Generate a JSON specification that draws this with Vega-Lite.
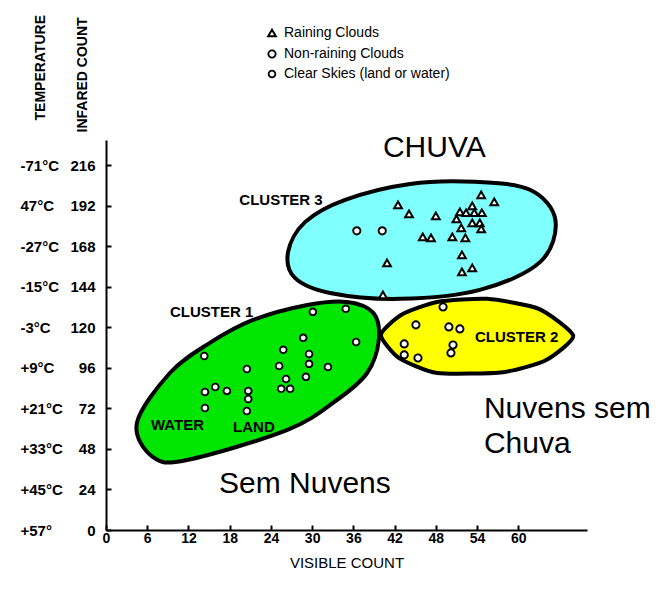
{
  "$schema": "https://vega.github.io/schema/vega-lite/v6.json",
  "autosize": "none",
  "width": 481,
  "height": 390,
  "padding": {"left": 106, "top": 140, "right": 79, "bottom": 62},
  "background": "white",
  "datasets": {
    "c3": [
      {"ord": 1, "vis": 26.5, "ir": 164.7}, {"ord": 2, "vis": 29.0, "ir": 182.5}, {"ord": 3, "vis": 34.8, "ir": 195.6},
      {"ord": 4, "vis": 44.25, "ir": 205.0}, {"ord": 5, "vis": 53.7, "ir": 206.2}, {"ord": 6, "vis": 61.7, "ir": 201.5},
      {"ord": 7, "vis": 65.4, "ir": 183.7}, {"ord": 8, "vis": 63.2, "ir": 158.8}, {"ord": 9, "vis": 54.4, "ir": 142.2},
      {"ord": 10, "vis": 42.8, "ir": 136.9}, {"ord": 11, "vis": 32.6, "ir": 140.4}, {"ord": 12, "vis": 27.5, "ir": 149.3}
    ],
    "c1": [
      {"ord": 1, "vis": 29.3, "ir": 133.3}, {"ord": 2, "vis": 35.1, "ir": 135.1}, {"ord": 3, "vis": 38.9, "ir": 128.6},
      {"ord": 4, "vis": 39.7, "ir": 112.6}, {"ord": 5, "vis": 38.0, "ir": 93.0}, {"ord": 6, "vis": 33.6, "ir": 77.0},
      {"ord": 7, "vis": 26.4, "ir": 59.3}, {"ord": 8, "vis": 11.8, "ir": 41.5}, {"ord": 9, "vis": 6.8, "ir": 43.3},
      {"ord": 10, "vis": 4.5, "ir": 63.4}, {"ord": 11, "vis": 9.3, "ir": 93.0}, {"ord": 12, "vis": 15.1, "ir": 110.8},
      {"ord": 13, "vis": 21.4, "ir": 124.4}
    ],
    "c2": [
      {"ord": 1, "vis": 40.0, "ir": 115.6}, {"ord": 2, "vis": 43.0, "ir": 127.5}, {"ord": 3, "vis": 48.2, "ir": 135.1},
      {"ord": 4, "vis": 55.5, "ir": 136.9}, {"ord": 5, "vis": 63.0, "ir": 131.0}, {"ord": 6, "vis": 68.0, "ir": 115.0},
      {"ord": 7, "vis": 64.0, "ir": 100.5}, {"ord": 8, "vis": 57.8, "ir": 93.5}, {"ord": 9, "vis": 48.2, "ir": 93.0},
      {"ord": 10, "vis": 42.6, "ir": 102.0}
    ],
    "pts": [
      {"vis": 42.5, "ir": 192.6, "type": "Raining Clouds"},
      {"vis": 44.1, "ir": 187.3, "type": "Raining Clouds"},
      {"vis": 48.0, "ir": 186.1, "type": "Raining Clouds"},
      {"vis": 54.6, "ir": 198.5, "type": "Raining Clouds"},
      {"vis": 56.5, "ir": 194.4, "type": "Raining Clouds"},
      {"vis": 53.3, "ir": 192.0, "type": "Raining Clouds"},
      {"vis": 51.5, "ir": 188.4, "type": "Raining Clouds"},
      {"vis": 52.4, "ir": 187.9, "type": "Raining Clouds"},
      {"vis": 53.6, "ir": 187.9, "type": "Raining Clouds"},
      {"vis": 54.7, "ir": 187.9, "type": "Raining Clouds"},
      {"vis": 51.0, "ir": 184.3, "type": "Raining Clouds"},
      {"vis": 53.3, "ir": 181.9, "type": "Raining Clouds"},
      {"vis": 54.4, "ir": 181.9, "type": "Raining Clouds"},
      {"vis": 51.7, "ir": 179.0, "type": "Raining Clouds"},
      {"vis": 54.6, "ir": 178.4, "type": "Raining Clouds"},
      {"vis": 46.1, "ir": 173.6, "type": "Raining Clouds"},
      {"vis": 47.3, "ir": 173.0, "type": "Raining Clouds"},
      {"vis": 50.4, "ir": 173.6, "type": "Raining Clouds"},
      {"vis": 52.3, "ir": 173.0, "type": "Raining Clouds"},
      {"vis": 51.8, "ir": 163.0, "type": "Raining Clouds"},
      {"vis": 40.9, "ir": 158.2, "type": "Raining Clouds"},
      {"vis": 53.3, "ir": 155.3, "type": "Raining Clouds"},
      {"vis": 51.8, "ir": 152.9, "type": "Raining Clouds"},
      {"vis": 40.3, "ir": 139.3, "type": "Raining Clouds"},
      {"vis": 36.5, "ir": 177.2, "type": "Non-raining Clouds"},
      {"vis": 40.2, "ir": 177.2, "type": "Non-raining Clouds"},
      {"vis": 49.05, "ir": 132.1, "type": "Non-raining Clouds"},
      {"vis": 45.1, "ir": 121.5, "type": "Non-raining Clouds"},
      {"vis": 49.9, "ir": 120.3, "type": "Non-raining Clouds"},
      {"vis": 51.5, "ir": 119.1, "type": "Non-raining Clouds"},
      {"vis": 43.4, "ir": 110.2, "type": "Non-raining Clouds"},
      {"vis": 50.5, "ir": 109.6, "type": "Non-raining Clouds"},
      {"vis": 50.2, "ir": 104.9, "type": "Non-raining Clouds"},
      {"vis": 43.4, "ir": 103.7, "type": "Non-raining Clouds"},
      {"vis": 45.4, "ir": 101.9, "type": "Non-raining Clouds"},
      {"vis": 30.1, "ir": 129.2, "type": "Clear Skies (land or water)"},
      {"vis": 34.9, "ir": 131.0, "type": "Clear Skies (land or water)"},
      {"vis": 28.7, "ir": 113.8, "type": "Clear Skies (land or water)"},
      {"vis": 36.4, "ir": 111.4, "type": "Clear Skies (land or water)"},
      {"vis": 25.8, "ir": 106.7, "type": "Clear Skies (land or water)"},
      {"vis": 29.55, "ir": 104.3, "type": "Clear Skies (land or water)"},
      {"vis": 14.3, "ir": 103.1, "type": "Clear Skies (land or water)"},
      {"vis": 25.2, "ir": 97.2, "type": "Clear Skies (land or water)"},
      {"vis": 29.55, "ir": 98.4, "type": "Clear Skies (land or water)"},
      {"vis": 32.3, "ir": 96.6, "type": "Clear Skies (land or water)"},
      {"vis": 20.5, "ir": 95.4, "type": "Clear Skies (land or water)"},
      {"vis": 26.2, "ir": 89.5, "type": "Clear Skies (land or water)"},
      {"vis": 29.1, "ir": 90.7, "type": "Clear Skies (land or water)"},
      {"vis": 15.9, "ir": 84.7, "type": "Clear Skies (land or water)"},
      {"vis": 14.4, "ir": 81.8, "type": "Clear Skies (land or water)"},
      {"vis": 17.6, "ir": 82.4, "type": "Clear Skies (land or water)"},
      {"vis": 20.7, "ir": 82.4, "type": "Clear Skies (land or water)"},
      {"vis": 25.5, "ir": 83.6, "type": "Clear Skies (land or water)"},
      {"vis": 26.8, "ir": 83.6, "type": "Clear Skies (land or water)"},
      {"vis": 20.7, "ir": 77.6, "type": "Clear Skies (land or water)"},
      {"vis": 14.4, "ir": 72.3, "type": "Clear Skies (land or water)"},
      {"vis": 20.5, "ir": 70.5, "type": "Clear Skies (land or water)"}
    ],
    "small": [
      {"vis": 19.4, "ir": 192.6, "label": "CLUSTER 3"},
      {"vis": 9.3, "ir": 126.2, "label": "CLUSTER 1"},
      {"vis": 53.7, "ir": 111.4, "label": "CLUSTER 2"},
      {"vis": 6.55, "ir": 59.3, "label": "WATER"},
      {"vis": 18.5, "ir": 58.1, "label": "LAND"}
    ],
    "big": [
      {"vis": 40.3, "ir": 221.0, "label": "CHUVA"},
      {"vis": 16.45, "ir": 21.9, "label": "Sem Nuvens"},
      {"vis": 55.0, "ir": 66.4, "label": "Nuvens sem"},
      {"vis": 55.0, "ir": 45.6, "label": "Chuva"}
    ],
    "temps": [
      {"ir": 216, "temp": "-71°C"}, {"ir": 192, "temp": "47°C"}, {"ir": 168, "temp": "-27°C"},
      {"ir": 144, "temp": "-15°C"}, {"ir": 120, "temp": "-3°C"}, {"ir": 96, "temp": "+9°C"},
      {"ir": 72, "temp": "+21°C"}, {"ir": 48, "temp": "+33°C"}, {"ir": 24, "temp": "+45°C"},
      {"ir": 0, "temp": "+57°"}
    ]
  },
  "layer": [
    {
      "encoding": {
        "x": {"field": "vis", "type": "quantitative",
          "scale": {"domain": [0, 70], "nice": false, "zero": false},
          "axis": {"values": [0, 6, 12, 18, 24, 30, 36, 42, 48, 54, 60], "tickSize": -5, "labelPadding": 6,
            "labelFontSize": 14, "labelFontWeight": "bold", "labelFlush": false,
            "title": "VISIBLE COUNT", "titleFontSize": 15, "titleFontWeight": "normal", "titlePadding": 10}},
        "y": {"field": "ir", "type": "quantitative",
          "scale": {"domain": [0, 231], "nice": false, "zero": false},
          "axis": {"values": [0, 24, 48, 72, 96, 120, 144, 168, 192, 216], "tickSize": -5, "labelPadding": 16,
            "labelFontSize": 15, "labelFontWeight": "bold", "labelFlush": false,
            "title": "INFARED COUNT", "titleFontSize": 14, "titleFontWeight": "bold",
            "titleAngle": 270, "titleAlign": "left", "titleBaseline": "middle", "titleX": -24, "titleY": -8}}
      },
      "layer": [
        {"data": {"name": "c3"}, "mark": {"type": "line", "interpolate": "cardinal-closed", "fill": "#80ffff", "stroke": "black", "strokeWidth": 4},
         "encoding": {"order": {"field": "ord", "type": "quantitative"}}},
        {"data": {"name": "c1"}, "mark": {"type": "line", "interpolate": "cardinal-closed", "fill": "#00e600", "stroke": "black", "strokeWidth": 4},
         "encoding": {"order": {"field": "ord", "type": "quantitative"}}},
        {"data": {"name": "c2"}, "mark": {"type": "line", "interpolate": "cardinal-closed", "tension": 0.4, "fill": "#ffff00", "stroke": "black", "strokeWidth": 4},
         "encoding": {"order": {"field": "ord", "type": "quantitative"}}},
        {"data": {"name": "pts"}, "mark": {"type": "point", "filled": true, "fill": "white", "stroke": "black", "opacity": 1},
         "encoding": {
           "shape": {"field": "type", "type": "nominal",
             "scale": {"domain": ["Raining Clouds", "Non-raining Clouds", "Clear Skies (land or water)"], "range": ["triangle-up", "circle", "circle"]},
             "legend": {"orient": "none", "legendX": 159, "legendY": -114, "title": null, "labelFontSize": 14, "labelFont": "Liberation Sans", "labelLimit": 400,
               "symbolFillColor": "white", "symbolStrokeColor": "black", "symbolStrokeWidth": 2, "rowPadding": 5, "padding": 0, "labelOffset": 5}},
           "size": {"field": "type", "type": "nominal",
             "scale": {"domain": ["Raining Clouds", "Non-raining Clouds", "Clear Skies (land or water)"], "range": [60, 45, 35]},
             "legend": {"orient": "none", "legendX": 159, "legendY": -114, "title": null, "labelLimit": 400}},
           "strokeWidth": {"field": "type", "type": "nominal",
             "scale": {"domain": ["Raining Clouds", "Non-raining Clouds", "Clear Skies (land or water)"], "range": [2, 1.8, 2.4]},
             "legend": null}
         }},
        {"data": {"name": "small"}, "mark": {"type": "text", "align": "left", "baseline": "alphabetic", "fontSize": 15, "fontWeight": "bold", "font": "Liberation Sans", "color": "black"},
         "encoding": {"text": {"field": "label"}}},
        {"data": {"name": "big"}, "mark": {"type": "text", "align": "left", "baseline": "alphabetic", "fontSize": 30, "font": "Liberation Sans", "color": "black"},
         "encoding": {"text": {"field": "label"}}}
      ]
    },
    {
      "data": {"name": "temps"},
      "mark": {"type": "point", "opacity": 0},
      "encoding": {
        "y": {"field": "ir", "type": "quantitative",
          "scale": {"domain": [0, 231], "nice": false, "zero": false},
          "axis": {"orient": "left", "offset": 40, "values": [0, 24, 48, 72, 96, 120, 144, 168, 192, 216],
            "labelExpr": "datum.value == 216 ? '-71°C' : datum.value == 192 ? '47°C' : datum.value == 168 ? '-27°C' : datum.value == 144 ? '-15°C' : datum.value == 120 ? '-3°C' : datum.value == 96 ? '+9°C' : datum.value == 72 ? '+21°C' : datum.value == 48 ? '+33°C' : datum.value == 24 ? '+45°C' : '+57°'",
            "domain": false, "ticks": false, "tickSize": 0, "labelAlign": "left", "labelPadding": 46,
            "labelFontSize": 15, "labelFontWeight": "bold", "labelFlush": false,
            "title": "TEMPERATURE", "titleFontSize": 14, "titleFontWeight": "bold",
            "titleAngle": 270, "titleAlign": "left", "titleBaseline": "middle", "titleX": -26, "titleY": -20}}
      }
    }
  ],
  "resolve": {"scale": {"y": "independent"}},
  "config": {
    "view": {"stroke": null},
    "font": "Liberation Sans",
    "axis": {"grid": false, "domainColor": "black", "domainWidth": 2, "tickColor": "black", "tickWidth": 2,
      "labelColor": "black", "titleColor": "black", "labelFont": "Liberation Sans", "titleFont": "Liberation Sans"},
    "legend": {"labelColor": "black"}
  }
}
